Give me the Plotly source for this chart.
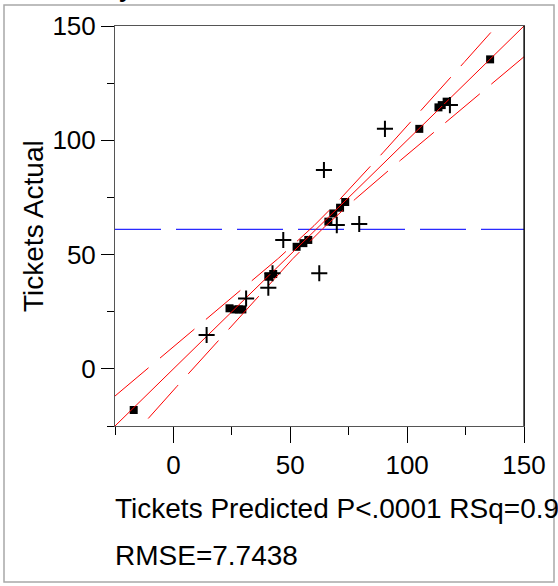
import numpy as np
import plotly.graph_objects as go

# ---- data ----
sq_pred = [-17, 24, 26, 28, 29.5, 40.6, 42.7, 52.7, 55.6, 57.7, 66.3, 68.4, 71.3, 73.5, 105.2, 113.4, 114.8, 116.9, 135.5]
sq_act  = [-18, 26.5, 26, 26, 26, 40.3, 41.5, 53.4, 55, 56.4, 64.4, 68, 70.5, 73, 105, 114.4, 115.4, 116.9, 135.4]

plus_pred = [14.2, 31.1, 40.6, 42.4, 47, 62.4, 64.4, 69.9, 79.5, 90.5, 118.3]
plus_act  = [14.8, 30.8, 35.5, 41.8, 56.4, 41.8, 87, 62.9, 63.4, 105, 115.4]

mean_actual = 61.0          # horizontal mean line
band_half_min = 2.5         # confidence-curve half width at the mean
band_slope = 0.148          # growth of half width away from the mean

x_ticks = [0, 50, 100, 150]
y_ticks = [0, 50, 100, 150]
axis_range = [-25, 150]

FONT = "Liberation Sans, Arial, sans-serif"

# ---- geometry helpers (pixel -> paper) ----
W, H = 558, 586
L, R, T, B = 115, 524, 26, 426
def px(xp):
    return (xp - L) / (R - L)
def py(yp):
    return (B - yp) / (B - T)

fig = go.Figure()

xs = np.linspace(-45, 170, 500)
half = np.sqrt(band_half_min**2 + band_slope**2 * (xs - mean_actual)**2)

# mean line
fig.add_trace(go.Scatter(x=axis_range, y=[mean_actual, mean_actual], mode="lines",
                         line=dict(color="#2a2aff", width=1.2, dash="46px,15px"),
                         hoverinfo="skip", showlegend=False))
# squares
fig.add_trace(go.Scatter(x=sq_pred, y=sq_act, mode="markers",
                         marker=dict(symbol="square", size=8, color="black"),
                         showlegend=False))
# fit line
fig.add_trace(go.Scatter(x=xs, y=xs, mode="lines",
                         line=dict(color="red", width=1), hoverinfo="skip", showlegend=False))
# confidence curves
for sgn in (1, -1):
    fig.add_trace(go.Scatter(x=xs, y=xs + sgn * half, mode="lines",
                             line=dict(color="red", width=1, dash="45px,15px"),
                             hoverinfo="skip", showlegend=False))
# plus markers
fig.add_trace(go.Scatter(x=plus_pred, y=plus_act, mode="markers",
                         marker=dict(symbol="cross-thin", size=11.5, color="black",
                                     line=dict(width=2, color="black")),
                         showlegend=False))

axis_common = dict(range=axis_range, showgrid=False, zeroline=False,
                   showline=True, mirror=True, linecolor="#555555", linewidth=1,
                   ticks="outside", tickcolor="black", tickwidth=1,
                   tickfont=dict(family=FONT, size=26, color="black"))

fig.update_xaxes(**axis_common, tickmode="array", tickvals=x_ticks, ticklen=16,
                 minor=dict(ticks="outside", ticklen=8, tick0=-25, dtick=25, tickcolor="black"))
fig.update_yaxes(**axis_common, tickmode="array", tickvals=y_ticks, ticklen=13,
                 minor=dict(ticks="outside", ticklen=7, tick0=-25, dtick=25, tickcolor="black"))

shapes = [
    # outer frame
    dict(type="rect", xref="paper", yref="paper", x0=px(4), x1=px(554), y0=py(582), y1=py(5),
         line=dict(color="#a8a8a8", width=1.5)),
    # right border dark
    dict(type="line", xref="paper", yref="paper", x0=1, x1=1, y0=0, y1=1,
         line=dict(color="black", width=1.2)),
]

annotations = [
    dict(text="<b>Actual by Predicted Plot</b>", xref="paper", yref="paper",
         x=px(22), y=py(4), xanchor="left", yanchor="bottom", showarrow=False,
         font=dict(family=FONT, size=24, color="black")),
    dict(text="Tickets Actual", xref="paper", yref="paper", x=px(33), y=0.5,
         xanchor="center", yanchor="middle", textangle=-90, showarrow=False,
         font=dict(family=FONT, size=28, color="black")),
    dict(text="Tickets Predicted P&lt;.0001 RSq=0.96", xref="paper", yref="paper",
         x=px(113), y=py(508), xanchor="left", yanchor="middle", showarrow=False,
         font=dict(family=FONT, size=28, color="black")),
    dict(text="RMSE=7.7438", xref="paper", yref="paper",
         x=px(113), y=py(555), xanchor="left", yanchor="middle", showarrow=False,
         font=dict(family=FONT, size=28, color="black")),
]

fig.update_layout(width=W, height=H,
                  margin=dict(l=L, r=W - R, t=T, b=H - B, pad=0),
                  plot_bgcolor="white", paper_bgcolor="white",
                  shapes=shapes, annotations=annotations, showlegend=False)

fig.write_html("out.html")
